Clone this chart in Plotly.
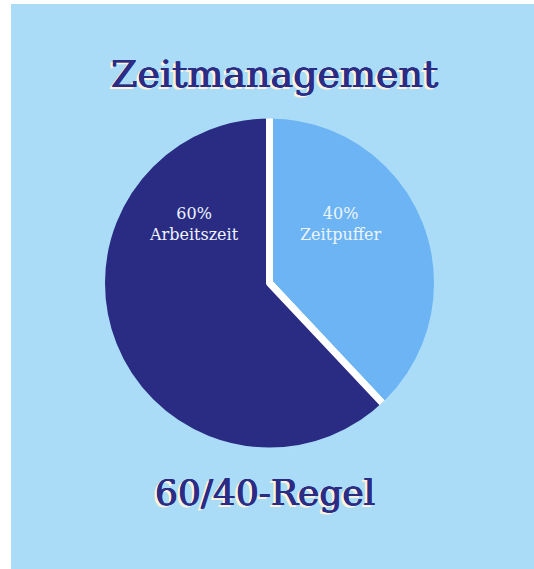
import plotly.graph_objects as go

labels = ["Zeitpuffer", "Arbeitszeit"]
values = [38, 62]               # slice sizes as drawn in the picture
percent_text = ["40%", "60%"]   # percentages as written on the chart
colors = ["#6cb4f3", "#2a2c84"]
title_text = "Zeitmanagement"
subtitle_text = "60/40-Regel"

BG = "#aadcf8"
NAVY = "#2b2d85"
W, H = 534, 569
ML, MT = 11, 4
PW, PH = W - ML, H - MT

def px(x):
    return (x - ML) / PW

def py(y):
    return 1 - (y - MT) / PH

cx, cy, r = 269.5, 283, 169

fig = go.Figure(go.Pie(
    labels=labels, values=values, sort=False, direction="clockwise", rotation=0,
    marker=dict(colors=colors, line=dict(color="white", width=7)),
    textinfo="none", hoverinfo="label", showlegend=False,
    domain=dict(x=[px(cx - r), px(cx + r)], y=[py(cy + r), py(cy - r)]),
))

# cover the outer white outline so that only the separators remain
fig.add_shape(type="circle", xref="paper", yref="paper", layer="above",
              x0=px(cx - r), x1=px(cx + r), y0=py(cy + r), y1=py(cy - r),
              line=dict(color=BG, width=9), fillcolor="rgba(0,0,0,0)")
fig.add_shape(type="rect", xref="paper", yref="paper", layer="below",
              x0=0, x1=1, y0=0, y1=1, fillcolor=BG, line=dict(width=0))

shadow = (f"0.6px 0px 0px {NAVY}, -0.4px 0px 0px {NAVY}, 0px 0.4px 0px {NAVY}, "
          "-3px 2px 0px #fcf2de")
fig.add_annotation(text=title_text, xref="paper", yref="paper", x=px(274), y=py(74),
                   xanchor="center", yanchor="middle", showarrow=False,
                   font=dict(family="DejaVu Serif", size=38, color=NAVY, shadow=shadow))
fig.add_annotation(text=subtitle_text, xref="paper", yref="paper", x=px(265), y=py(493),
                   xanchor="center", yanchor="middle", showarrow=False,
                   font=dict(family="DejaVu Serif", size=36, color=NAVY, shadow=shadow))

lab_font = dict(family="DejaVu Serif", size=16, color="#eef4ff")
lab_pos = {"Arbeitszeit": (194, 224), "Zeitpuffer": (341, 224)}
for lab, pct in zip(labels, percent_text):
    x, y = lab_pos[lab]
    fig.add_annotation(text=f"{pct}<br>{lab}", xref="paper", yref="paper",
                       x=px(x), y=py(y), xanchor="center", yanchor="middle",
                       showarrow=False, font=lab_font, align="center")

fig.update_layout(width=W, height=H, margin=dict(l=ML, r=0, t=MT, b=0),
                  paper_bgcolor="white", plot_bgcolor=BG)
fig.write_html("out.html", config={"displayModeBar": False},
               post_script="document.body.style.margin='0';document.body.style.overflow='hidden';")
